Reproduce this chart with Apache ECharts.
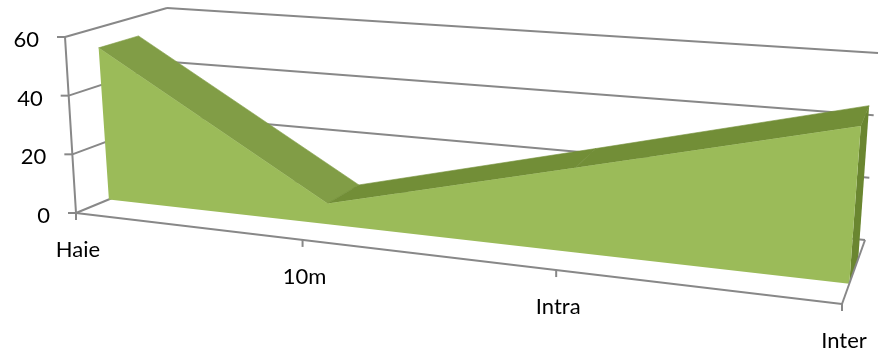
<!DOCTYPE html>
<html>
<head>
<meta charset="utf-8">
<script src="https://cdn.jsdelivr.net/npm/echarts@6/dist/echarts.min.js"></script>
<style>
  html, body { margin: 0; padding: 0; background: #ffffff; }
  #chart { width: 883px; height: 351px; }
</style>
</head>
<body>
<div id="chart"></div>
<script>
// Chart data
const categories = ['Haie', '10m', 'Intra', 'Inter'];
const values = [53, 7, 27, 48];
const valueTicks = [0, 20, 40, 60];
const valueMax = 60;

// Corners of the 3D plot box on screen: [x, y, perspective weight]
// f/b = front/back, l/r = left/right, b/t = bottom/top
const BOX = {
  flb: [76, 213, 1.00], flt: [65, 37, 1.00],
  frb: [842, 304, 0.84], frt: [857, 102, 0.84],
  blb: [180, 170, 1.08], blt: [167, 8, 1.08],
  brb: [865, 240, 0.91], brt: [878, 53, 0.91]
};
const SERIES_DEPTH = [0.30, 0.69]; // front / back of the area slab
const GRID_COLOR = '#888888';
const FONT = '22px Lato, "Open Sans", sans-serif';
const COLORS = {
  front: '#9bbb59',
  topDown: '#819d46',
  topUp: '#728e37',
  side: '#6a8630'
};

// Perspective-weighted trilinear mapping of (u, h, z) in the unit box to screen
function project(u, h, z) {
  const c = [
    [BOX.flb, (1 - u) * (1 - h) * (1 - z)],
    [BOX.flt, (1 - u) * h * (1 - z)],
    [BOX.frb, u * (1 - h) * (1 - z)],
    [BOX.frt, u * h * (1 - z)],
    [BOX.blb, (1 - u) * (1 - h) * z],
    [BOX.blt, (1 - u) * h * z],
    [BOX.brb, u * (1 - h) * z],
    [BOX.brt, u * h * z]
  ];
  let sx = 0, sy = 0, sw = 0;
  c.forEach(([p, b]) => {
    const w = b * p[2];
    sx += p[0] * w; sy += p[1] * w; sw += w;
  });
  return [sx / sw, sy / sw];
}

// Normalised box coordinates of a (category, value) pair via the cartesian scales
function unit(api, cat, val) {
  const o = api.coord([0, 0]);
  const e = api.coord([categories.length - 1, valueMax]);
  const p = api.coord([cat, val]);
  return [(p[0] - o[0]) / (e[0] - o[0]), (p[1] - o[1]) / (e[1] - o[1])];
}

function seg(a, b, color, width) {
  return {
    type: 'line',
    shape: { x1: a[0], y1: a[1], x2: b[0], y2: b[1] },
    style: { stroke: color || GRID_COLOR, lineWidth: width || 2 },
    silent: true
  };
}

// Walls: gridlines on the side and back walls for each value tick
function renderWalls(params, api) {
  const t = valueTicks[params.dataIndex];
  const h = unit(api, 0, t)[1];
  const frontLeft = project(0, h, 0);
  const backLeft = project(0, h, 1);
  const backRight = project(1, h, 1);
  return {
    type: 'group',
    children: [seg(frontLeft, backLeft), seg(backLeft, backRight)]
  };
}

// Value axis ticks and labels on the front-left edge
function renderValueAxis(params, api) {
  const t = valueTicks[params.dataIndex];
  const h = unit(api, 0, t)[1];
  const p = project(0, h, 0);
  const children = [
    seg([p[0] - 8, p[1]], p),
    {
      type: 'text',
      style: {
        text: String(t), x: p[0] - 26, y: p[1] + 3,
        align: 'right', verticalAlign: 'middle',
        font: FONT, fill: '#000000'
      },
      silent: true
    }
  ];
  if (params.dataIndex === 0) {
    const top = project(0, 1, 0);
    const frb = project(1, 0, 0);
    const brb = project(1, 0, 1);
    children.push(seg(p, top), seg(p, frb), seg(frb, brb));
  }
  return { type: 'group', children: children };
}

// Category ticks and labels along the front floor edge
function renderCategoryAxis(params, api) {
  const i = params.dataIndex;
  const u = unit(api, i, 0)[0];
  const p = project(u, 0, 0);
  return {
    type: 'group',
    children: [
      seg(p, [p[0], p[1] + 7]),
      {
        type: 'text',
        style: {
          text: categories[i], x: p[0] + 2, y: p[1] + 37,
          align: 'center', verticalAlign: 'middle',
          font: FONT, fill: '#000000'
        },
        silent: true
      }
    ]
  };
}

// The 3D area slab: top faces, right side face, front face
function renderArea(params, api) {
  if (params.dataIndex !== 0) return null;
  const [z0, z1] = SERIES_DEPTH;
  const ft = [], bt = [], fb = [], bb = [];
  values.forEach((v, i) => {
    const [u, h] = unit(api, i, v);
    ft.push(project(u, h, z0));
    bt.push(project(u, h, z1));
    fb.push(project(u, 0, z0));
    bb.push(project(u, 0, z1));
  });
  const children = [];
  for (let i = 0; i < values.length - 1; i++) {
    const col = values[i + 1] < values[i] ? COLORS.topDown : COLORS.topUp;
    children.push({
      type: 'polygon',
      shape: { points: [ft[i], ft[i + 1], bt[i + 1], bt[i]] },
      style: { fill: col, stroke: col, lineWidth: 0.6, lineJoin: 'round' },
      silent: true
    });
  }
  const n = values.length - 1;
  children.push({
    type: 'polygon',
    shape: { points: [ft[n], bt[n], bb[n], fb[n]] },
    style: { fill: COLORS.side },
    silent: true
  });
  children.push({
    type: 'polygon',
    shape: { points: ft.concat(fb.slice().reverse()) },
    style: { fill: COLORS.front },
    silent: true
  });
  return { type: 'group', children: children };
}

const chart = echarts.init(document.getElementById('chart'), null, { renderer: 'canvas' });
chart.setOption({
  animation: false,
  backgroundColor: '#ffffff',
  grid: { left: 0, right: 0, top: 0, bottom: 0 },
  xAxis: { type: 'category', data: categories, boundaryGap: false, show: false },
  yAxis: { type: 'value', min: 0, max: valueMax, interval: 20, show: false },
  series: [
    { type: 'custom', z: 1, renderItem: renderWalls, data: valueTicks.map(t => [0, t]) },
    { type: 'custom', z: 2, renderItem: renderArea, data: values.map((v, i) => [i, v]) },
    { type: 'custom', z: 3, renderItem: renderValueAxis, data: valueTicks.map(t => [0, t]) },
    { type: 'custom', z: 3, renderItem: renderCategoryAxis, data: categories.map((c, i) => [i, 0]) }
  ]
});
</script>
</body>
</html>
